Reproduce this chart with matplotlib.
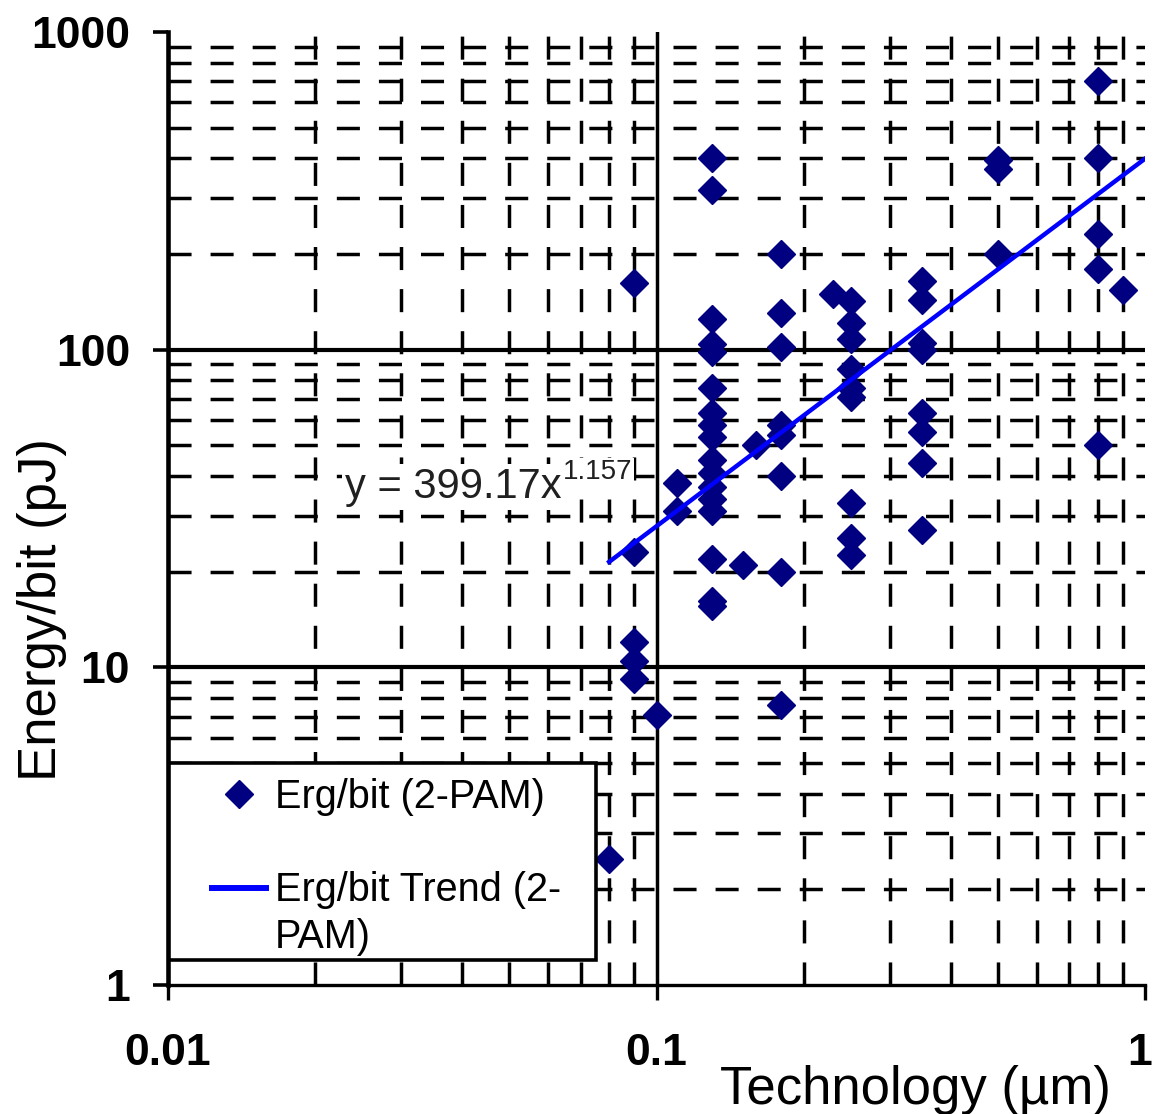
import numpy as np
import matplotlib
matplotlib.use("Agg")
import matplotlib.pyplot as plt
from matplotlib.lines import Line2D
from matplotlib.patches import Rectangle
from matplotlib.ticker import LogLocator, NullFormatter
from matplotlib.transforms import ScaledTranslation

plt.rcParams["font.family"] = ["Liberation Sans", "DejaVu Sans"]
plt.rcParams["lines.scale_dashes"] = False

# ---- data: technology node (um) vs energy per bit (pJ) ----
tech_um = [
    0.08,
    0.09, 0.09, 0.09, 0.09, 0.09,
    0.10,
    0.11, 0.11,
    0.13, 0.13, 0.13, 0.13, 0.13, 0.13, 0.13, 0.13, 0.13,
    0.13, 0.13, 0.13, 0.13, 0.13, 0.13, 0.13, 0.13,
    0.15,
    0.16,
    0.18, 0.18, 0.18, 0.18, 0.18, 0.18, 0.18, 0.18,
    0.23,
    0.25, 0.25, 0.25, 0.25, 0.25, 0.25, 0.25, 0.25, 0.25,
    0.35, 0.35, 0.35, 0.35, 0.35, 0.35, 0.35, 0.35,
    0.50, 0.50, 0.50,
    0.80, 0.80, 0.80, 0.80, 0.80,
    0.90,
]
energy_pj = [
    2.5,
    162, 23, 12, 10.5, 9.2,
    7.1,
    38, 31,
    400, 318, 125, 104, 98, 76, 63, 58, 53,
    45, 41, 37, 34, 31, 22, 16.2, 15.6,
    21,
    50,
    200, 130, 102, 58, 54, 40, 20, 7.6,
    150,
    142, 121, 108, 87, 76, 71, 33, 25.5, 22.5,
    165, 143, 105, 100, 63, 55, 44, 27,
    395, 370, 200,
    700, 400, 232, 180, 50,
    154,
]

# power-law trend  y = a * x^b
trend_coef = 399.17
trend_exp = 1.157
trend_x = np.array([0.08, 1.0])
trend_y = trend_coef * trend_x ** trend_exp

xticks = [0.01, 0.1, 1]
xtick_labels = ["0.01", "0.1", "1"]
yticks = [1, 10, 100, 1000]
ytick_labels = ["1", "10", "100", "1000"]

series_label = "Erg/bit (2-PAM)"
trend_label_lines = ["Erg/bit Trend (2-", "PAM)"]

NAVY = "#000080"
W, H = 1153, 1114

fig = plt.figure(figsize=(W / 100, H / 100), dpi=100)
ax = fig.add_axes([168 / W, 1 - 985 / H, 977 / W, 953 / H])
ax.set_xscale("log")
ax.set_yscale("log")
ax.set_xlim(0.01, 1)
ax.set_ylim(1, 1000)

# grid: dashed minor lines, solid decade lines
ax.xaxis.set_minor_locator(LogLocator(base=10, subs=np.arange(2, 10)))
ax.yaxis.set_minor_locator(LogLocator(base=10, subs=np.arange(2, 10)))
ax.xaxis.set_minor_formatter(NullFormatter())
ax.yaxis.set_minor_formatter(NullFormatter())
ax.grid(which="minor", color="black", lw=2.5, ls=(0, (16.6, 13.7)), zorder=1)
ax.grid(which="major", visible=False)
for v in [10, 100]:
    ax.axhline(v, color="black", lw=3.0, zorder=1.5)
ax.axvline(0.1, color="black", lw=2.5, zorder=1.5)

ax.set_xticks(xticks, labels=xtick_labels)
ax.set_yticks(yticks, labels=ytick_labels)
ax.tick_params(which="minor", length=0)
ax.tick_params(axis="x", which="major", direction="out", length=10.8, width=2.4,
               pad=24, labelsize=32)
ax.tick_params(axis="y", which="major", direction="out", length=10.8, width=2.6,
               pad=16.5, labelsize=32)
for lab in ax.get_xticklabels() + ax.get_yticklabels():
    lab.set_fontweight("bold")
# keep the last x label inside the canvas
last_lab = ax.get_xticklabels()[-1]
last_lab.set_transform(last_lab.get_transform()
                       + ScaledTranslation(-5 / 100, 0, fig.dpi_scale_trans))

for side in ["top", "right"]:
    ax.spines[side].set_visible(False)
ax.spines["left"].set_linewidth(3.3)
ax.spines["bottom"].set_linewidth(2.4)

# scatter points and trend line
ax.plot(tech_um, energy_pj, ls="none", marker="D", ms=14, mew=1,
        color=NAVY, zorder=3, clip_on=False)
ax.plot(trend_x, trend_y, color="#0000FF", lw=3.2, zorder=3.5)

# trend equation
eq = ax.text(0.02303, 34.1, f"y = {trend_coef}x", fontsize=30, color="#202020",
             ha="left", va="baseline", zorder=2.5,
             bbox=dict(facecolor="white", edgecolor="none", pad=2))
ax.annotate(f"{trend_exp}", xy=(1, 0), xycoords=eq, xytext=(1, 20),
            textcoords="offset points", fontsize=20, color="#202020",
            ha="left", va="baseline", zorder=2.5,
            bbox=dict(facecolor="white", edgecolor="none", pad=1))

# legend box
def ax_x(px):
    return (px - 168) / 977


def ax_y(py):
    return (985 - py) / 953


box = Rectangle((ax_x(169), ax_y(960)), ax_x(596) - ax_x(169), ax_y(763) - ax_y(960),
                transform=ax.transAxes, facecolor="white", edgecolor="black",
                lw=2.6, zorder=4.5, clip_on=False)
ax.add_patch(box)

h_marker = Line2D([], [], ls="none", marker="D", ms=14, mew=1, color=NAVY)
h_line = Line2D([], [], color="#0000FF", lw=4.3)
h_blank = Line2D([], [], ls="none")
leg = ax.legend([h_marker, h_blank, h_line, h_blank],
                [series_label, "", trend_label_lines[0], trend_label_lines[1]],
                loc="upper left", bbox_to_anchor=(ax_x(212), ax_y(778)),
                bbox_transform=ax.transAxes, frameon=False, borderpad=0,
                borderaxespad=0, handlelength=1.36, handletextpad=0.23,
                labelspacing=0.22, fontsize=28.5, numpoints=1)
leg.set_zorder(5)

# axis titles
fig.text(42 / W, 1 - 610 / H, "Energy/bit (pJ)", rotation=90, ha="center",
         va="center", fontsize=38)
fig.text(915 / W, 1 - 1104 / H, "Technology (\u00b5m)", ha="center",
         va="baseline", fontsize=38)

fig.savefig("out.png", dpi=100, facecolor="white")
